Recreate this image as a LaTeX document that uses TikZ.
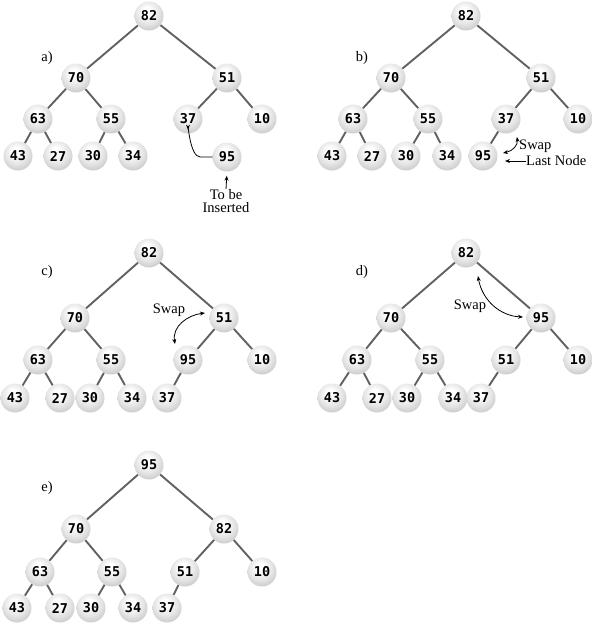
\documentclass[tikz,border=0pt]{standalone}
\usepackage{fontspec}
\setmainfont{Liberation Serif}
\newfontfamily\digitfont{DejaVu Sans Mono}
\usetikzlibrary{arrows.meta}

% grey sphere with the highlight a little above the centre
\pgfdeclareradialshading{heapball}{\pgfpoint{-4bp}{10bp}}{%
  color(0bp)=(white); color(6bp)=(white); color(20bp)=(black!10);
  color(36bp)=(black!26); color(48bp)=(black!42); color(60bp)=(black!58)}

\tikzset{
  key/.style={circle, minimum size=29pt, inner sep=0pt, shading=heapball,
    font=\digitfont\bfseries\fontsize{13.5}{14}\selectfont},
  link/.style={draw=black!62, line width=1.9pt},
  arr/.style={-{Stealth[length=5pt,width=4pt]}, line width=0.8pt},
  darr/.style={{Stealth[length=5pt,width=4pt]}-{Stealth[length=5pt,width=4pt]}, line width=0.8pt},
  lbl/.style={font=\fontsize{14.5}{15}\selectfont, inner sep=0pt},
}

\begin{document}
\begin{tikzpicture}[x=1pt, y=-1pt]
\useasboundingbox (0,0) rectangle (593,624);

% ---------------- a) ----------------
\node[lbl] (alab) at (47,58) {a)};
\node[key] (a82) at (149,16) {82};
\node[key] (a70) at (76,78) {70};
\node[key] (a51) at (227,78) {51};
\node[key] (a63) at (38,119) {63};
\node[key] (a55) at (111,119) {55};
\node[key] (a37) at (188,119) {37};
\node[key] (a10) at (262,119) {10};
\node[key] (a43) at (18,156) {43};
\node[key] (a27) at (58,156) {27};
\node[key] (a30) at (93,156) {30};
\node[key] (a34) at (133,156) {34};
\node[key] (a95) at (227,157) {95};
\foreach \p/\c in {a82/a70,a82/a51,a70/a63,a70/a55,a51/a37,a51/a10,a63/a43,a63/a27,a55/a30,a55/a34}
  \draw[link] (\p) -- (\c);
\node[lbl, align=center] (ains) at (226,201) {To be\\[-2pt]Inserted};
\draw[arr, shorten >=4pt] (ains.north) -- (a95.south);
\draw[arr, shorten >=4pt] (a95.west) -- ++(-12,0) to[out=180, in=90] (a37.south);

% ---------------- b) ----------------
\node[lbl] (blab) at (362,58) {b)};
\node[key] (b82) at (466,16) {82};
\node[key] (b70) at (391,78) {70};
\node[key] (b51) at (541,78) {51};
\node[key] (b63) at (353,119) {63};
\node[key] (b55) at (428,119) {55};
\node[key] (b37) at (506,119) {37};
\node[key] (b10) at (578,119) {10};
\node[key] (b43) at (332,156) {43};
\node[key] (b27) at (372,156) {27};
\node[key] (b30) at (406,156) {30};
\node[key] (b34) at (447,156) {34};
\node[key] (b95) at (483,156) {95};
\foreach \p/\c in {b82/b70,b82/b51,b70/b63,b70/b55,b51/b37,b51/b10,b63/b43,b63/b27,b55/b30,b55/b34,b37/b95}
  \draw[link] (\p) -- (\c);
\node[lbl, anchor=west] (bswap) at (519,146) {Swap};
\node[lbl, anchor=west] (blast) at (526,161) {Last Node};
\coordinate (bs1) at (503,153);
\coordinate (bs2) at (517,137);
\draw[darr] (bs1) .. controls (513,151) and (518,145) .. (bs2);
\draw[arr] (blast.west) -- (505,161);

% ---------------- c) ----------------
\node[lbl] (clab) at (47,272) {c)};
\node[key] (c82) at (149,253) {82};
\node[key] (c70) at (75,318) {70};
\node[key] (c51) at (224,318) {51};
\node[key] (c63) at (38,360) {63};
\node[key] (c55) at (111,360) {55};
\node[key] (c95) at (188,360) {95};
\node[key] (c10) at (262,360) {10};
\node[key] (c43) at (15,398) {43};
\node[key] (c27) at (60,398) {27};
\node[key] (c30) at (90,398) {30};
\node[key] (c34) at (132,398) {34};
\node[key] (c37) at (167,398) {37};
\foreach \p/\c in {c82/c70,c82/c51,c70/c63,c70/c55,c51/c95,c51/c10,c63/c43,c63/c27,c55/c30,c55/c34,c95/c37}
  \draw[link] (\p) -- (\c);
\node[lbl] (cswap) at (169,310) {Swap};
\coordinate (cs1) at (205,313);
\coordinate (cs2) at (175,344);
\draw[darr] (cs1) .. controls (188,315) and (172,326) .. (cs2);

% ---------------- d) ----------------
\node[lbl] (dlab) at (362,272) {d)};
\node[key] (d82) at (466,253) {82};
\node[key] (d70) at (391,318) {70};
\node[key] (d95) at (541,318) {95};
\node[key] (d63) at (357,360) {63};
\node[key] (d55) at (430,360) {55};
\node[key] (d51) at (506,360) {51};
\node[key] (d10) at (578,360) {10};
\node[key] (d43) at (332,398) {43};
\node[key] (d27) at (377,398) {27};
\node[key] (d30) at (407,398) {30};
\node[key] (d34) at (453,398) {34};
\node[key] (d37) at (481,398) {37};
\foreach \p/\c in {d82/d70,d82/d95,d70/d63,d70/d55,d95/d51,d95/d10,d63/d43,d63/d27,d55/d30,d55/d34,d51/d37}
  \draw[link] (\p) -- (\c);
\node[lbl] (dswap) at (470,306) {Swap};
\coordinate (ds1) at (478,276);
\coordinate (ds2) at (523,317);
\draw[darr] (ds1) .. controls (482,300) and (500,316) .. (ds2);

% ---------------- e) ----------------
\node[lbl] (elab) at (47,488) {e)};
\node[key] (e95) at (149,465) {95};
\node[key] (e70) at (76,529) {70};
\node[key] (e82) at (224,529) {82};
\node[key] (e63) at (40,572) {63};
\node[key] (e55) at (112,572) {55};
\node[key] (e51) at (185,572) {51};
\node[key] (e10) at (262,572) {10};
\node[key] (e43) at (17,608) {43};
\node[key] (e27) at (60,608) {27};
\node[key] (e30) at (91,608) {30};
\node[key] (e34) at (133,608) {34};
\node[key] (e37) at (167,608) {37};
\foreach \p/\c in {e95/e70,e95/e82,e70/e63,e70/e55,e82/e51,e82/e10,e63/e43,e63/e27,e55/e30,e55/e34,e51/e37}
  \draw[link] (\p) -- (\c);
\end{tikzpicture}
\end{document}
